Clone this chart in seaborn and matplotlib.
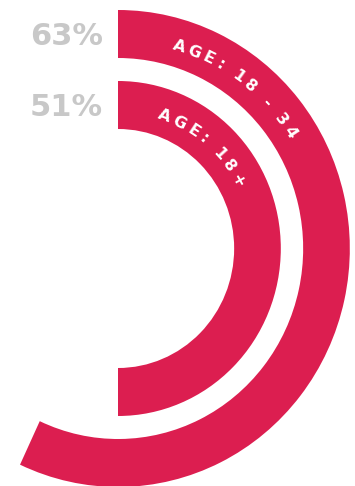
import numpy as np
import pandas as pd
import seaborn as sns
import matplotlib
matplotlib.use("Agg")
import matplotlib.pyplot as plt
from matplotlib.font_manager import FontProperties

# values
rings = ["AGE: 18 - 34", "AGE: 18+"]
pct = [63, 51]
sweep_deg = [205, 180]          # arc length drawn in the picture
ring_r = [214.5, 143.5]         # ring centre radius (px)
text_span = [(17.2, 56.6), (19.8, 61.0)]  # first/last letter angle

red = "#DC1E50"
grey = "#C8C8C8"

sns.set_theme(style="white")
plt.rcParams["font.family"] = ["DejaVu Sans"]

df = pd.DataFrame({"theta": np.deg2rad(sweep_deg), "r": ring_r, "ring": rings})

fig = plt.figure(figsize=(3.55, 4.86), dpi=100)
R = 245.0
xs = 0.972  # picture is slightly squeezed horizontally
cx, cy = 118.0, 248.5
ax = fig.add_axes([(cx - xs * R) / 355, (486 - cy - R) / 486,
                   2 * xs * R / 355, 2 * R / 486], projection="polar")
ax.set_theta_zero_location("N")
ax.set_theta_direction(-1)

sns.barplot(data=df, x="theta", y="r", orient="h", native_scale=True,
            width=48 / 71, color=red, saturation=1, linewidth=0, ax=ax)

ax.set_aspect("auto")
ax.set_rlim(0, R)
ax.set_axis_off()

renderer = fig.canvas.get_renderer()


def char_w(c, prop):
    w1 = renderer.get_text_width_height_descent("x" + c + "x", prop, ismath=False)[0]
    w0 = renderer.get_text_width_height_descent("xx", prop, ismath=False)[0]
    return w1 - w0


def arc_text(s, r, a0, a1, size):
    prop = FontProperties(family="DejaVu Sans", weight="bold", size=size)
    w = np.array([char_w(c, prop) for c in s])
    centers = np.concatenate([[0], np.cumsum(w[:-1])]) + w / 2
    centers = centers - centers[0]
    target = np.deg2rad(a1 - a0) * r
    track = (target - centers[-1]) / (len(s) - 1)
    centers = centers + track * np.arange(len(s))
    cap = 0.73 * size * 100 / 72
    for c, x in zip(s, centers):
        phi = a0 + np.rad2deg(x / r)
        ax.text(np.deg2rad(phi), r - 1.5 - cap / 2, c, rotation=-phi,
                rotation_mode="anchor", ha="center", va="baseline",
                fontproperties=prop, color="white")


for label, r, (a0, a1) in zip(rings, ring_r, text_span):
    arc_text(label, r, a0, a1, 11.5)

for p, r in zip(pct, ring_r):
    ax.annotate(f"{p}%", xy=(0, r), xytext=(-15, -11.5), textcoords="offset pixels",
                ha="right", va="baseline", fontsize=22, fontweight="bold",
                color=grey, family="DejaVu Sans")

fig.savefig("out.png", dpi=100)
